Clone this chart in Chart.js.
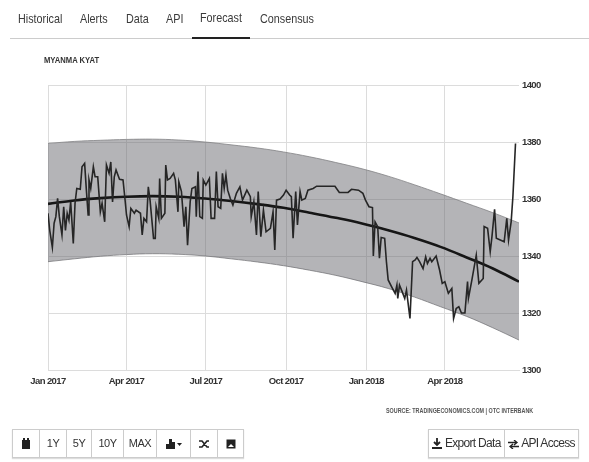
<!DOCTYPE html>
<html>
<head>
<meta charset="utf-8">
<script src="https://cdn.jsdelivr.net/npm/chart.js@4"></script>
<style>
html, body { margin: 0; padding: 0; background: #fff; }
body { width: 589px; height: 462px; position: relative; overflow: hidden; font-family: "Liberation Sans", sans-serif; color: #333; filter: blur(0.5px); }
#chart { position: absolute; left: 0; top: 0; }
.tab { position: absolute; top: 11px; font-size: 13px; color: #3a3a3a; transform: scaleX(0.83); transform-origin: left center; white-space: nowrap; }
.rule { position: absolute; left: 10px; right: 0; top: 38px; height: 1px; background: #ccc; }
.active { position: absolute; left: 192px; width: 58px; top: 37px; height: 2px; background: #222; }
.title { position: absolute; left: 44px; top: 55px; font-size: 8.5px; font-weight: bold; color: #333; transform: scaleX(0.9); transform-origin: left center; white-space: nowrap; }
.source { position: absolute; left: 386px; top: 407px; font-size: 6.3px; font-weight: bold; color: #555; transform: scaleX(0.855); transform-origin: left center; white-space: nowrap; }
.bar { position: absolute; top: 429px; height: 27px; display: flex; border: 1px solid #ccc; box-shadow: 0 1px 1px #ddd; background: #fff; }
.bar div { height: 27px; line-height: 27px; text-align: center; border-left: 1px solid #ccc; box-sizing: border-box; font-size: 11px; color: #333; white-space: nowrap; letter-spacing: -0.5px; }
.bar div:first-child { border-left: 0; }
.bar svg { vertical-align: -2px; }
.big div { font-size: 12px; letter-spacing: -0.7px; }
</style>
</head>
<body>
<canvas id="chart" width="589" height="462" style="width:589px;height:462px"></canvas>

<span class="tab" style="left:18px">Historical</span>
<span class="tab" style="left:80px">Alerts</span>
<span class="tab" style="left:126px">Data</span>
<span class="tab" style="left:166px">API</span>
<span class="tab" style="left:200px;top:10px">Forecast</span>
<span class="tab" style="left:260px">Consensus</span>
<div class="rule"></div>
<div class="active"></div>

<div class="title">MYANMA KYAT</div>
<div class="source">SOURCE: TRADINGECONOMICS.COM | OTC INTERBANK</div>

<div class="bar" style="left:12px">
  <div style="width:26px"><svg width="10" height="11"><rect x="1" y="2" width="8" height="9" fill="#222"/><rect x="2" y="0" width="2" height="2" fill="#222"/><rect x="6" y="0" width="2" height="2" fill="#222"/></svg></div>
  <div style="width:27px">1Y</div>
  <div style="width:25px">5Y</div>
  <div style="width:32px">10Y</div>
  <div style="width:33px">MAX</div>
  <div style="width:34px"><svg width="16" height="11"><rect x="0" y="6" width="3" height="5" fill="#222"/><rect x="3" y="1" width="3" height="10" fill="#222"/><rect x="6" y="4" width="3" height="7" fill="#222"/><path d="M11 5h5l-2.5 3z" fill="#222"/></svg></div>
  <div style="width:27px"><svg width="11" height="10"><path d="M0 2h3l5 6h2M0 8h3l5-6h2" stroke="#222" stroke-width="1.6" fill="none"/></svg></div>
  <div style="width:26px"><svg width="10" height="10"><rect x="0.5" y="0.5" width="9" height="9" fill="#222"/><path d="M2 8l3-3 3 3z" fill="#fff"/></svg></div>
</div>

<div class="bar big" style="left:428px">
  <div style="width:75px"><svg width="10" height="11"><path d="M5 0v6M2 4l3 3 3-3M0 10h10" stroke="#222" stroke-width="1.8" fill="none"/></svg> Export Data</div>
  <div style="width:74px"><svg width="11" height="9"><path d="M0 2.5h8M6 0l3 2.5-3 2.5M11 6.5h-8M5 4l-3 2.500 3 2.500" stroke="#222" stroke-width="1.300" fill="none"/></svg> API Access</div>
</div>

<script>
// ticks
const tickDays = [0, 90, 181, 273, 365, 455];
const tickLabels = ['Jan 2017', 'Apr 2017', 'Jul 2017', 'Oct 2017', 'Jan 2018', 'Apr 2018'];

// kyat rate (days since 1 Jan 2017)
const rateDays = [0,2,5,7,9,11,13,16,18,20,22,24,26,29,31,33,37,39,42,44,46,47,49,52,54,57,60,62,65,67,70,72,74,76,78,82,86,88,90,93,95,99,101,106,108,110,113,115,117,121,123,124,127,128,130,134,135,137,140,144,146,149,150,153,156,158,160,163,165,169,170,172,174,177,178,181,185,187,191,193,195,198,200,202,204,206,209,212,216,220,223,228,232,233,236,239,241,244,247,250,255,258,260,262,266,270,273,277,279,281,284,286,289,291,295,298,304,308,329,334,344,348,356,361,364,368,372,373,375,378,380,382,386,388,390,394,398,400,401,403,406,409,411,415,418,421,423,426,430,433,435,438,440,445,449,452,455,459,463,465,468,471,474,478,481,482,486,491,494,499,500,504,507,509,512,514,523,526,528,531,533,536];
const rateValues = [1355,1349,1343,1351.5,1353.8,1360.2,1353.8,1347.4,1357.3,1349,1355,1352.6,1359,1344.4,1358.5,1363.7,1363.4,1371.3,1372.5,1363.1,1354.4,1366.7,1363.7,1371.3,1367.8,1367.8,1355.5,1358.5,1352,1371.9,1369,1373,1359,1367.8,1370.2,1366.9,1366.7,1360.8,1354.4,1350.3,1356.7,1355,1356.1,1355,1347.4,1353.2,1352,1364.3,1359.6,1346.2,1346.2,1357.3,1353.2,1367.2,1353.2,1355,1371.9,1366.7,1367.2,1369,1366.7,1355.5,1366,1362.6,1350.3,1357.3,1343.8,1359,1363.7,1364.3,1353.8,1369.6,1353.8,1353.2,1366.7,1364.9,1367.2,1353.2,1353.2,1369.6,1357.3,1356.7,1369,1363.7,1368.4,1363.1,1360.2,1357.9,1362,1364.3,1359.6,1363.1,1360.8,1353.8,1359,1347.4,1362.6,1346.8,1356.1,1348.5,1349.7,1355.5,1342.1,1359.6,1360,1361.4,1363.1,1361.4,1360.8,1346.2,1362.6,1350.9,1362.6,1359.6,1360.2,1363.1,1363.7,1364.5,1364.5,1362.3,1362.3,1363.4,1363.1,1362,1359.6,1357.3,1357,1340,1352,1350.3,1339.2,1346.5,1346.2,1338,1331.6,1329.2,1326.9,1329.8,1325.1,1329.8,1327.5,1325.1,1328,1318.1,1338,1338.6,1339.5,1338,1335.6,1339.7,1337.4,1339.2,1338,1340,1335,1330.4,1331,1326.9,1328.6,1318.1,1321.6,1322.2,1320,1320,1331,1325.1,1331.6,1340.3,1330.4,1332.1,1350.3,1349.7,1341.5,1346.8,1356.4,1346.2,1345,1353.2,1345.6,1352,1360.8,1379.5];

// forecast trend and band
const bandDays = [0,30,60,90,120,150,180,210,240,270,300,330,360,390,420,450,480,510,540];
const upperValues = [1379.5,1380.2,1380.6,1380.9,1381,1380.7,1380,1379,1377.9,1376.5,1374.8,1372.8,1370.6,1368,1365,1361.8,1358.5,1355.2,1351.6];
const trendValues = [1358.3,1359.5,1360.3,1360.8,1361,1360.8,1360.2,1359.3,1358.2,1356.9,1355.2,1353.4,1351.4,1349,1346.3,1343.2,1339.5,1335.6,1331];
const lowerValues = [1338,1339,1339.9,1340.5,1340.8,1340.6,1340,1339,1337.9,1336.6,1335,1333.2,1331,1328.6,1325.6,1322.2,1318.8,1314.8,1310.5];

const yTicks = [1300, 1320, 1340, 1360, 1380, 1400];

function pts(xs, ys) {
  return xs.map((x, i) => ({ x: x, y: ys[i] }));
}

const labelFont = { family: '"Liberation Sans", sans-serif', size: 9.5, weight: 'bold' };

// reference labels are condensed, canvas has no narrow face here
const tightText = {
  id: 'tightText',
  beforeDraw(chart) { chart.ctx.letterSpacing = '-0.6px'; }
};

new Chart(document.getElementById('chart'), {
  type: 'line',
  data: {
    datasets: [
      { label: 'Rate', data: pts(rateDays, rateValues), borderColor: '#262626', borderWidth: 1.6, pointRadius: 0, tension: 0, fill: false },
      { label: 'Trend', data: pts(bandDays, trendValues), borderColor: '#161616', borderWidth: 2.6, pointRadius: 0, tension: 0.4, fill: false },
      { label: 'Upper', data: pts(bandDays, upperValues), borderColor: 'rgba(130,130,132,0.8)', borderWidth: 1, pointRadius: 0, tension: 0.4, fill: '+1', backgroundColor: 'rgba(98,98,104,0.48)' },
      { label: 'Lower', data: pts(bandDays, lowerValues), borderColor: 'rgba(130,130,132,0.8)', borderWidth: 1, pointRadius: 0, tension: 0.4, fill: false }
    ]
  },
  plugins: [tightText],
  options: {
    responsive: false,
    animation: false,
    layout: { padding: { left: 48, top: 85, right: 0, bottom: 0 } },
    plugins: { legend: { display: false }, tooltip: { enabled: false } },
    scales: {
      x: {
        type: 'linear',
        min: 0,
        max: 540,
        afterBuildTicks: (axis) => { axis.ticks = tickDays.map(v => ({ value: v })); },
        afterFit: (axis) => { axis.height = 92; },
        ticks: {
          color: '#333', font: labelFont, padding: 6, maxRotation: 0, autoSkip: false,
          callback: (v) => tickLabels[tickDays.indexOf(v)]
        },
        grid: { color: '#dcdcdc', tickLength: 0 },
        border: { color: '#dcdcdc' }
      },
      y: {
        position: 'right',
        min: 1300,
        max: 1400,
        afterBuildTicks: (axis) => { axis.ticks = yTicks.map(v => ({ value: v })); },
        afterFit: (axis) => { axis.width = 70; },
        ticks: { color: '#333', font: labelFont, padding: 3, callback: (v) => String(v) },
        grid: { color: '#dcdcdc', tickLength: 0 },
        border: { display: false }
      }
    }
  }
});
</script>
</body>
</html>
